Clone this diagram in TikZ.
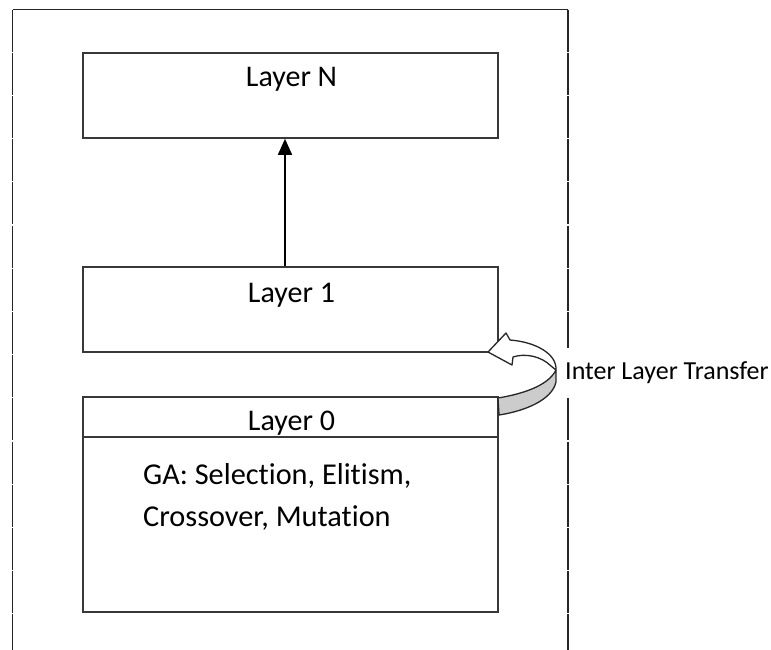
\documentclass[tikz,border=0pt]{standalone}
\usepackage{fontspec}
\setmainfont{Carlito}[RawFeature={-liga,-dlig,-clig}]
\usetikzlibrary{arrows.meta}
\tikzset{
  layerbox/.style={draw=black!78, line width=1.6pt, minimum width=415pt, inner sep=0pt},
  layertext/.style={anchor=base, inner sep=0pt, font=\fontsize{30}{36}\selectfont},
  gatext/.style={anchor=base west, inner sep=0pt, font=\fontsize{30.3}{36}\selectfont},
  frameline/.style={draw=black!85, line width=1.8pt},
  sidelabel/.style={fill=white, inner xsep=3pt, minimum height=49pt, font=\fontsize{26}{30}\selectfont},
  ribbon/.style={draw=black!85, line width=1.3pt, line join=round},
}
\begin{document}
\begin{tikzpicture}[x=1pt, y=-1pt]
\useasboundingbox (0,0) rectangle (771,649);

% open frame around the layer stack
\draw[frameline] (12.5,9.5) -- (568,9.5);
\draw[frameline, dash pattern=on 42pt off 1.2pt] (12.5,9.5) -- (12.5,652);
\draw[frameline, dash pattern=on 42pt off 1.2pt] (568,9.5) -- (568,652);

% layers
\node[layerbox, minimum height=85pt] (ln) at (290.5,95.5) {};
\node[layerbox, minimum height=85pt] (l1) at (290.5,309.5) {};
\node[layerbox, minimum height=215pt] (l0) at (290.5,504.5) {};
\draw[draw=black!78, line width=1.6pt] ([yshift=-41pt]l0.north west) -- ([yshift=-41pt]l0.north east);

\node[layertext] (tn) at (291.5,86) {Layer N};
\node[layertext] (t1) at (291.5,302) {Layer 1};
\node[layertext] (t0) at (291.5,430) {Layer 0};
\node[gatext] (ga1) at (143,484) {GA: Selection, Elitism,};
\node[gatext] (ga2) at (143,526) {Crossover, Mutation};

% upward connection
\draw[line width=1.6pt, -{Triangle[length=16pt, width=14pt]}]
  ([xshift=-5.5pt]l1.north) -- ([xshift=-5.5pt]ln.south);

% transfer label over the frame
\node[sidelabel, anchor=west] (tr) at (562,372.5) {Inter Layer Transfer};

% curved ribbon arrow from layer 0 to layer 1
\coordinate (tip) at (488,352);
\filldraw[ribbon, fill=white]
  (tip) -- (506,333) -- (510,340)
  .. controls (536,342) and (557,354) .. (556,370)
  -- (551,366)
  .. controls (541,356) and (525,353) .. (513,357)
  -- (512,365) -- cycle;
\filldraw[ribbon, fill=black!20]
  (556,370) .. controls (548,386) and (522,394) .. (498,398)
  -- (499,415)
  .. controls (525,411) and (552,400) .. (556,382) -- cycle;
\end{tikzpicture}
\end{document}
